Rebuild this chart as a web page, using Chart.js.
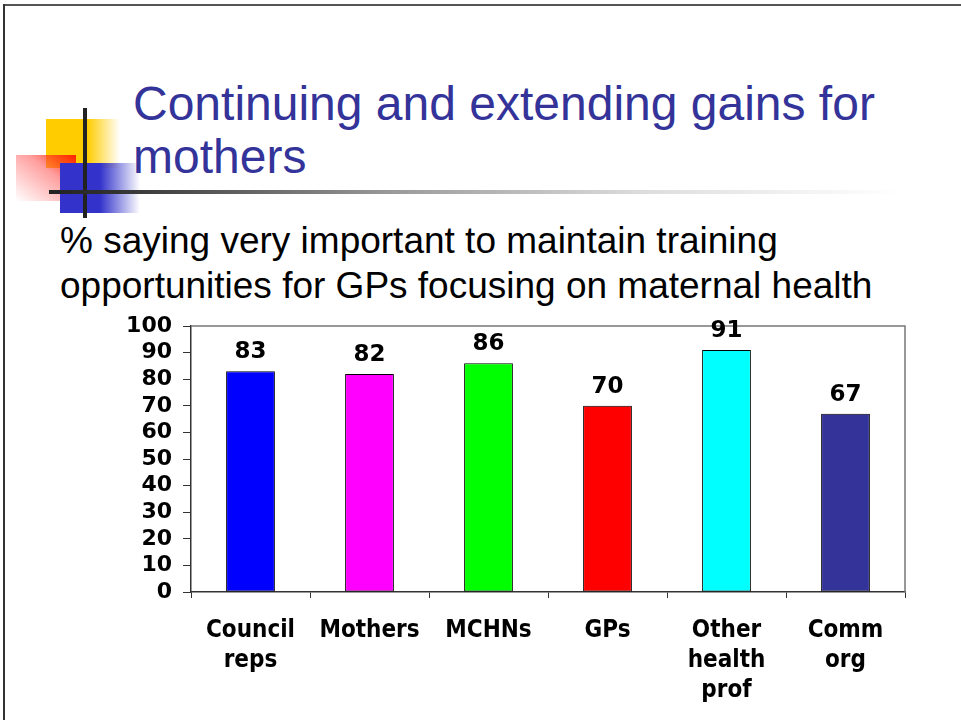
<!DOCTYPE html>
<html>
<head>
<meta charset="utf-8">
<script src="https://cdn.jsdelivr.net/npm/chart.js@4/dist/chart.umd.min.js"></script>
<style>
  html, body { margin:0; padding:0; background:#fff; }
  #slide { position:relative; width:961px; height:720px; overflow:hidden; background:#fff; }
  .frameTop { position:absolute; left:3px; top:4px; width:958px; height:2px; background:#555; }
  .frameLeft { position:absolute; left:3px; top:4px; width:2px; height:716px; background:#333; }
  .sqYellow { position:absolute; left:46px; top:119px; width:74px; height:49px; background:linear-gradient(to right, #ffcc00 0, #ffcc00 56%, rgba(255,204,0,0) 100%); }
  .sqBlue { position:absolute; left:60px; top:163px; width:80px; height:50px; background:linear-gradient(to right, #3333cc 0, #3333cc 50%, rgba(51,51,204,0) 100%); }
  .sqRed { position:absolute; left:16px; top:155px; width:60px; height:46px; background:linear-gradient(to bottom left, #ff2200 0, rgba(255,80,80,0.55) 40%, rgba(255,200,200,0) 100%); }
  .vLine { position:absolute; left:83px; top:108px; width:4px; height:110px; background:#222; }
  .hLine { position:absolute; left:49px; top:190px; width:850px; height:4px; background:linear-gradient(to right, #222 0, #333 8%, #999 40%, #ddd 70%, #fff 100%); }
  .title { position:absolute; left:133px; top:77px; font-family:"Liberation Sans", Arial, sans-serif; font-size:48px; line-height:53px; color:#333399; white-space:nowrap; }
  .sub { position:absolute; left:60px; top:218px; font-family:"Liberation Sans", Arial, sans-serif; font-size:37px; line-height:45px; color:#000; white-space:nowrap; }
  #chartWrap { position:absolute; left:0; top:300px; width:961px; height:420px; }
</style>
</head>
<body>
<div id="slide">
  <div class="frameTop"></div>
  <div class="frameLeft"></div>
  <div class="sqYellow"></div>
  <div class="sqRed"></div>
  <div class="sqBlue"></div>
  <div class="vLine"></div>
  <div class="hLine"></div>
  <div class="title">Continuing and extending gains for<br>mothers</div>
  <div class="sub">% saying very important to maintain training<br>opportunities for GPs focusing on maternal health</div>
  <div id="chartWrap"><canvas id="chart" width="961" height="420"></canvas></div>
</div>
<script>
  var categories = [['Council', 'reps'], 'Mothers', 'MCHNs', 'GPs', ['Other', 'health', 'prof'], ['Comm', 'org']];
  var values = [83, 82, 86, 70, 91, 67];
  var barColors = ['#0000ff', '#ff00ff', '#00ff00', '#ff0000', '#00ffff', '#333399'];
  var yTicks = [0, 10, 20, 30, 40, 50, 60, 70, 80, 90, 100];

  var plotFrame = {
    id: 'plotFrame',
    beforeDatasetsDraw: function(chart){
      var a = chart.chartArea, ctx = chart.ctx;
      ctx.save();
      ctx.strokeStyle = '#777'; ctx.lineWidth = 1.5;
      ctx.beginPath();
      ctx.moveTo(a.left, a.top); ctx.lineTo(a.right, a.top); ctx.lineTo(a.right, a.bottom);
      ctx.stroke();
      ctx.restore();
    }
  };

  var valueLabels = {
    id: 'valueLabels',
    afterDatasetsDraw: function(chart){
      var ctx = chart.ctx;
      var meta = chart.getDatasetMeta(0);
      ctx.save();
      ctx.font = 'bold 23px "DejaVu Sans", Verdana, sans-serif';
      ctx.fillStyle = '#000';
      ctx.textAlign = 'center';
      ctx.textBaseline = 'alphabetic';
      meta.data.forEach(function(el, i){
        ctx.fillText(String(values[i]), el.x, el.y - 13);
      });
      ctx.restore();
    }
  };

  new Chart(document.getElementById('chart'), {
    type: 'bar',
    data: {
      labels: categories,
      datasets: [{
        data: values,
        backgroundColor: barColors,
        borderColor: '#000',
        borderWidth: 1,
        borderSkipped: false,
        categoryPercentage: 1,
        barPercentage: 0.41
      }]
    },
    options: {
      responsive: false,
      animation: false,
      layout: { padding: { top: 26, right: 56, left: 0, bottom: 0 } },
      plugins: { legend: { display: false }, tooltip: { enabled: false } },
      scales: {
        y: {
          min: 0, max: 100,
          afterBuildTicks: function(s){ s.ticks = yTicks.map(function(v){ return { value: v }; }); },
          afterFit: function(s){ s.width = 191; },
          ticks: { autoSkip: false, color: '#000', padding: 11, font: { family: '"DejaVu Sans", Verdana, sans-serif', size: 22, weight: 'bold', lineHeight: 1 } },
          grid: { drawOnChartArea: false, tickLength: 8, color: '#333' },
          border: { color: '#333', width: 1.5 }
        },
        x: {
          afterFit: function(s){ s.height = 128; },
          ticks: { color: '#000', padding: 18, maxRotation: 0, autoSkip: false, font: { family: '"DejaVu Sans Condensed", "DejaVu Sans", sans-serif', size: 24, weight: 'bold', lineHeight: 1.25 } },
          grid: { offset: true, drawOnChartArea: false, tickLength: 6, color: '#333' },
          border: { color: '#333', width: 1.5 }
        }
      }
    },
    plugins: [plotFrame, valueLabels]
  });
</script>
</body>
</html>
